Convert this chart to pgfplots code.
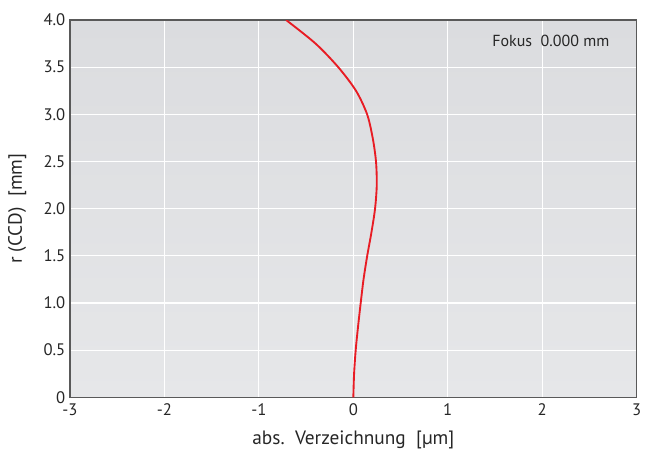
\documentclass[border=0pt]{standalone}
\usepackage{pgfplots}
\pgfplotsset{compat=1.18}
\usepackage{fontspec}
\setmainfont{PT Sans}
\begin{document}
\begin{tikzpicture}[x=1pt,y=1pt]
\begin{axis}[
  scale only axis,
  width=425pt, height=283pt,
  xmin=-3, xmax=3, ymin=0, ymax=4,
  xtick={-3,-2,-1,0,1,2,3},
  xticklabels={-3,-2,-1,0,1,2,3},
  ytick={0,0.5,1,1.5,2,2.5,3,3.5,4},
  yticklabels={0,0.5,1.0,1.5,2.0,2.5,3.0,3.5,4.0},
  major tick length=0pt,
  grid=major,
  grid style={white, line width=0.8pt},
  axis line style={draw=black!65, line width=0.8pt},
  axis background/.style={shade, top color={rgb,255:red,219;green,220;blue,223}, bottom color={rgb,255:red,230;green,231;blue,233}},
  tick label style={font=\fontsize{12.5}{14}\selectfont, text=black!85},
  xticklabel style={yshift=-1pt},
  xlabel={abs.\ \ Verzeichnung\ \ [µm]},
  ylabel={r (CCD)\ \ [mm]},
  label style={font=\fontsize{14.5}{17}\selectfont, text=black!85},
  xlabel style={yshift=-5pt},
  ylabel style={yshift=6pt},
  clip=true,
]
\addplot[smooth, draw={rgb,255:red,232;green,28;blue,36}, line width=1.4pt] coordinates {
(0,0) (0.008,0.25) (0.025,0.5) (0.05,0.75) (0.078,1.0) (0.108,1.25) (0.147,1.5) (0.192,1.75) (0.23,2.0) (0.248,2.25) (0.24,2.5) (0.205,2.75) (0.146,3.0) (0.028,3.25) (-0.16,3.5) (-0.40,3.75) (-0.712,4.0)
};
\node[anchor=north east, font=\fontsize{12}{14}\selectfont, text=black!85] at (rel axis cs:0.96,0.972) {Fokus\ \ 0.000 mm};
\end{axis}
\path[use as bounding box] (current axis.south west) ++(-52.5pt,-41.5pt) rectangle ([xshift=10pt,yshift=15pt]current axis.north east);
\end{tikzpicture}
\end{document}
